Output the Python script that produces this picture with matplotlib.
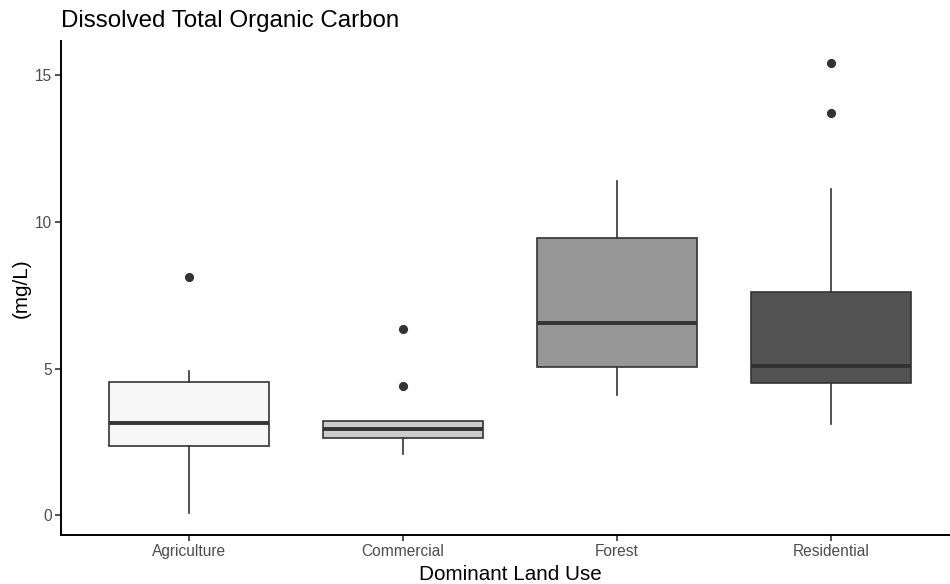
import matplotlib
matplotlib.use("Agg")
import matplotlib.pyplot as plt

categories = ["Agriculture", "Commercial", "Forest", "Residential"]
whisker_low = [0.1, 2.1, 4.1, 3.1]
q1 = [2.35, 2.65, 5.05, 4.5]
median = [3.15, 2.95, 6.55, 5.1]
q3 = [4.55, 3.2, 9.45, 7.6]
whisker_high = [4.9, 3.2, 11.4, 11.1]
outliers = [[8.1], [4.4, 6.35], [], [13.7, 15.4]]
fills = ["#f7f7f7", "#cccccc", "#969696", "#525252"]
yticks = [0, 5, 10, 15]

plt.rcParams['font.family'] = ['Liberation Sans', 'DejaVu Sans']

fig = plt.figure(figsize=(9.5, 5.84), dpi=100)
ax = fig.add_axes([61/950, 49/584, (959-61)/950, (535-40.5)/584])

stats = []
for i, c in enumerate(categories):
    stats.append(dict(label=c, whislo=whisker_low[i], q1=q1[i], med=median[i],
                      q3=q3[i], whishi=whisker_high[i], fliers=outliers[i]))

line_c = "#333333"
bp = ax.bxp(stats, positions=range(1, len(categories) + 1), widths=0.75,
            patch_artist=True, showcaps=False,
            boxprops=dict(edgecolor=line_c, linewidth=1.2),
            whiskerprops=dict(color=line_c, linewidth=1.2),
            medianprops=dict(color=line_c, linewidth=2.8, solid_capstyle='butt'),
            flierprops=dict(marker='o', markerfacecolor=line_c, markeredgecolor=line_c,
                            markersize=5.6))
for patch, f in zip(bp['boxes'], fills):
    patch.set_facecolor(f)

ax.set_xlim(0.4, 4.6)
ax.set_ylim(-0.665, 16.165)
ax.set_yticks(yticks)
ax.set_yticklabels([str(v) for v in yticks])
ax.set_xticks(range(1, len(categories) + 1))
ax.set_xticklabels(categories)

for s in ["top", "right"]:
    ax.spines[s].set_visible(False)
for s in ["left", "bottom"]:
    ax.spines[s].set_color("black")
    ax.spines[s].set_linewidth(1.4)

ax.tick_params(axis='both', length=4, width=1.2, color="#333333",
               labelcolor="#4D4D4D", labelsize=11.2, pad=2.5)

ax.set_xlabel("Dominant Land Use", fontsize=14.9, color="black", labelpad=4)
ax.set_ylabel("(mg/L)", fontsize=14.9, color="black", labelpad=3)
ax.set_title("Dissolved Total Organic Carbon", loc='left', fontsize=17.4,
             color="black", pad=10)

fig.savefig("out.png", dpi=100)
